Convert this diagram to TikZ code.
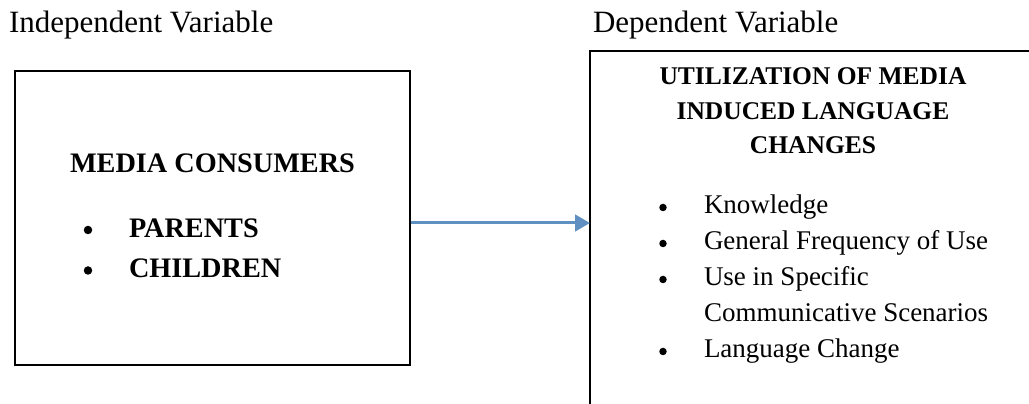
\documentclass[tikz,border=0pt]{standalone}
\usepackage{fontspec}
\setmainfont{Liberation Serif}
\usepackage{xcolor}
\usetikzlibrary{arrows.meta}

\definecolor{linkblue}{RGB}{96,143,193}

\begin{document}
\begin{tikzpicture}[
		x=0.4pt, y=-0.4pt,
		line width=0.8pt,
		every node/.style={inner sep=0pt},
		var label/.style={anchor=base west, font=\fontsize{12.4}{15}\selectfont},
		iv box/.style={draw, minimum width=158pt, minimum height=117.6pt},
		iv head/.style={anchor=base, font=\bfseries\fontsize{11.3}{14}\selectfont},
		dv head/.style={anchor=base, font=\bfseries\fontsize{10.2}{13}\selectfont},
		iv item/.style={anchor=base west, font=\bfseries\fontsize{11.3}{14}\selectfont},
		dv item/.style={anchor=base west, font=\fontsize{10.8}{13}\selectfont},
		dot/.style={circle, fill, minimum size=3.4pt},
		small dot/.style={dot, minimum size=3pt},
		link/.style={draw=linkblue, line width=1.2pt, -{Triangle[length=6pt, width=6.6pt]}}
		]
	\useasboundingbox (0, 0) rectangle (1029, 404);

	% Headings
	\node[var label] (ivlabel) at (8, 33) {Independent Variable};
	\node[var label] (dvlabel) at (592, 33) {Dependent Variable};

	% Independent variable
	\node[iv box] (consumers) at (212.5, 218) {};
	\node[iv head] (ivtitle) at (212.5, 173) {MEDIA CONSUMERS};
	\node[dot] (ivdot1) at (88, 230) {};
	\node[iv item] (parents) at (128, 238) {PARENTS};
	\node[dot] (ivdot2) at (88, 270.5) {};
	\node[iv item] (children) at (128, 278) {CHILDREN};

	% Dependent variable (box runs off the page)
	\draw (1035, 51) -- (590, 51) -- (590, 410);
	\coordinate (dvedge) at (590, 223);
	\node[dv head] (dvtitle1) at (813, 85) {UTILIZATION OF MEDIA};
	\node[dv head] (dvtitle2) at (813, 120) {INDUCED LANGUAGE};
	\node[dv head] (dvtitle3) at (813, 154) {CHANGES};

	\foreach \y/\txt [count=\i] in {214/Knowledge, 250/General Frequency of Use, 286/Use in Specific, 358/Language Change}{
		\node[small dot] (dvdot\i) at (663, \y-6.5) {};
		\node[dv item] (dvitem\i) at (703, \y) {\txt};
	}
	\node[dv item] (dvitem3b) at (703, 322) {Communicative Scenarios};

	% Link
	\draw[link] (consumers.east |- dvedge) -- (dvedge);

\end{tikzpicture}
\end{document}
